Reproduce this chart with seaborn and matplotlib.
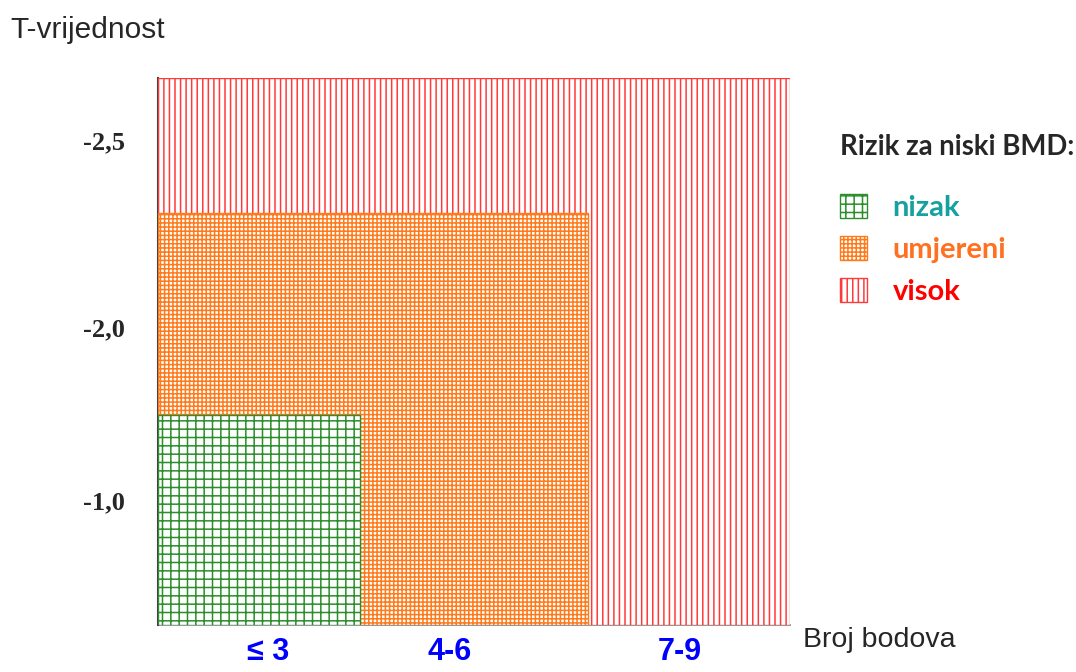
import matplotlib
matplotlib.use("Agg")
import matplotlib.pyplot as plt
import seaborn as sns

# ---- data ----
risk_levels = ["nizak", "umjereni", "visok"]
score_upper = [2.88, 6.12, 9.0]    # extent along "Broj bodova"
t_extent = [2.10, 4.12, 5.47]      # extent along the T-value axis (diagram units)
x_labels = ["≤ 3", "4-6", "7-9"]
y_labels = ["-1,0", "-2,0", "-2,5"]
y_label_levels = [1.25, 2.98, 4.85]
legend_title = "Rizik za niski BMD:"

# ---- style ----
sns.set_theme(style="white")
plt.rcParams["font.family"] = ["Liberation Sans", "DejaVu Sans"]
plt.rcParams["hatch.linewidth"] = 1.1

colors = {"nizak": "#2a8f2a", "umjereni": "#ff7a1a", "visok": "#ff3a3a"}
hatches = {"nizak": "++", "umjereni": "++++", "visok": "|||"}
label_colors = ["#17a0a0", "#ff7020", "#ff0000"]

W, H = 1076, 672
fig = plt.figure(figsize=(W / 100, H / 100), dpi=100)
ax = fig.add_axes([158 / W, 1 - 625 / H, (790 - 158) / W, (625 - 78) / H])

handles = {}
for lvl, xe, ye in sorted(zip(risk_levels, score_upper, t_extent), key=lambda t: -t[1]):
    b = ax.bar(0, ye, width=xe, align="edge", facecolor="white",
               edgecolor=colors[lvl], hatch=hatches[lvl], linewidth=1.0, zorder=3)
    handles[lvl] = b.patches[0]

ax.set_xlim(0, max(score_upper))
ax.set_ylim(0, max(t_extent))

ax.set_xticks([1.57, 4.16, 7.43])
ax.set_xticklabels(x_labels, color="#0000ff", fontweight="bold", fontsize=22,
                   family=["Liberation Sans", "DejaVu Sans"])
ax.set_yticks(y_label_levels)
ax.set_yticklabels(y_labels, fontweight="bold", fontsize=19,
                   family=["Liberation Serif", "DejaVu Serif"])
ax.tick_params(axis="x", length=0, pad=9)
ax.tick_params(axis="y", length=0, pad=24)

sns.despine(ax=ax, top=True, right=True)
ax.spines["left"].set_color("#444444")
ax.spines["left"].set_linewidth(1.5)
ax.spines["bottom"].set_color("#888888")
ax.spines["bottom"].set_zorder(1)

fig.text(10 / W, 1 - 30 / H, "T-vrijednost", fontsize=21.5, va="center", ha="left")
fig.text(803 / W, 1 - 640 / H, "Broj bodova", fontsize=20.5, va="center", ha="left")

fig.text(840 / W, 1 - 147 / H, legend_title, fontsize=19.8, fontweight="bold",
         va="center", ha="left", family=["Lato", "DejaVu Sans"])

leg = fig.legend([handles[l] for l in risk_levels], risk_levels,
                 loc="upper left", bbox_to_anchor=(814 / W, 1 - 168 / H),
                 frameon=False, handlelength=0.9, handleheight=0.9,
                 handletextpad=0.9, labelspacing=0.5,
                 labelcolor=label_colors,
                 prop={"family": "Lato", "weight": "bold", "size": 21})

fig.savefig("out.png", dpi=100)
